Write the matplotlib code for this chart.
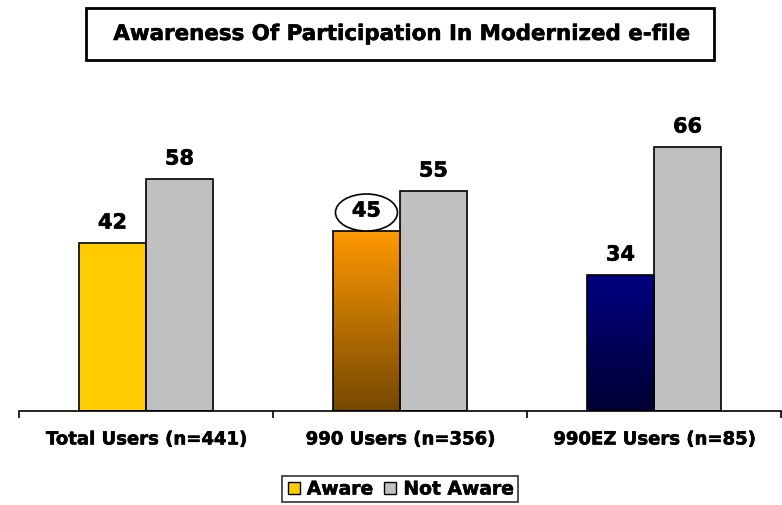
import matplotlib
matplotlib.use("Agg")
import matplotlib.pyplot as plt
import matplotlib.patheffects as pe
import numpy as np
from matplotlib.colors import LinearSegmentedColormap
from matplotlib.patches import Rectangle, Ellipse
from matplotlib.transforms import ScaledTranslation

CATEGORIES = ["Total Users (n=441)", "990 Users (n=356)", "990EZ Users (n=85)"]
AWARE = [42, 45, 34]
NOT_AWARE = [58, 55, 66]
SERIES = ["Aware", "Not Aware"]
TITLE = "Awareness Of Participation In Modernized e-file"
CIRCLED = 1  # index of the circled Aware value

plt.rcParams["font.family"] = "DejaVu Sans"
plt.rcParams["font.weight"] = "bold"
heavy = [pe.withStroke(linewidth=0.4, foreground="black")]

fig = plt.figure(figsize=(7.82, 5.05), dpi=100)
ax = fig.add_axes([19 / 782, 94 / 505, 762 / 782, 320 / 505])

x = np.arange(len(CATEGORIES))
w = 0.264
b1 = ax.bar(x - w / 2, AWARE, w, color="#FFCC00", edgecolor="black", lw=1.2, zorder=2)
b2 = ax.bar(x + w / 2, NOT_AWARE, w, color="#C0C0C0", edgecolor="black", lw=1.2, zorder=2)

# gradient fills for the 990 and 990EZ "Aware" bars
grads = {1: ("#FF9900", "#754800"), 2: ("#000080", "#000033")}
for i, (top, bot) in grads.items():
    bar = b1[i]
    cmap = LinearSegmentedColormap.from_list("g%d" % i, [bot, top])
    x0, h = bar.get_x(), bar.get_height()
    im = ax.imshow(np.linspace(0, 1, 256).reshape(-1, 1), cmap=cmap, origin="lower",
                   extent=[x0, x0 + bar.get_width(), 0, h], aspect="auto", zorder=2.5)
    im.set_clip_path(bar)
    bar.set_facecolor("none")
    bar.set_zorder(3)

for bars in (b1, b2):
    for j, bar in enumerate(bars):
        xc, yc = bar.get_x() + bar.get_width() / 2, bar.get_height()
        if bars is b1 and j == CIRCLED:
            tr = fig.dpi_scale_trans + ScaledTranslation(xc, yc, ax.transData)
            ax.add_patch(Ellipse((0, 0.185), 0.62, 0.37, transform=tr, fc="white",
                                 ec="black", lw=1.2, zorder=4))
        ax.annotate(f"{bar.get_height():.0f}", (xc, yc),
                    xytext=(0, 7.5), textcoords="offset points", ha="center", va="bottom",
                    fontsize=15, fontweight="bold", zorder=5, path_effects=heavy)

ax.set_xlim(-0.5, 2.5)
ax.set_ylim(0, 80)
ax.set_yticks([])
for s in ("left", "right", "top"):
    ax.spines[s].set_visible(False)
ax.spines["bottom"].set_linewidth(1.2)
ax.set_xticks(x)
ax.set_xticklabels(CATEGORIES, fontsize=13, fontweight="bold")
for t in ax.get_xticklabels():
    t.set_path_effects(heavy)
ax.tick_params(axis="x", which="major", length=0, pad=14)
ax.set_xticks([-0.5, 0.5, 1.5, 2.5], minor=True)
ax.tick_params(axis="x", which="minor", length=5, width=1.2, direction="out")

# title box
fig.patches.append(Rectangle((86 / 782, 1 - 60 / 505), 628 / 782, 52 / 505,
                             transform=fig.transFigure, fill=False, ec="black", lw=2))
fig.text(401 / 782, 1 - 34 / 505, TITLE, ha="center", va="center", fontsize=15.4,
         fontweight="bold", path_effects=heavy)

h1 = plt.Line2D([], [], marker="s", ls="none", mfc="#FFCC00", mec="black", ms=9)
h2 = plt.Line2D([], [], marker="s", ls="none", mfc="#C0C0C0", mec="black", ms=9)
leg = fig.legend([h1, h2], SERIES, loc="center", bbox_to_anchor=(400 / 782, 1 - 489 / 505),
                 ncol=2, frameon=True, fancybox=False, edgecolor="black", fontsize=13.5,
                 handlelength=0.8, handletextpad=0.3, columnspacing=0.5, borderpad=0.2,
                 borderaxespad=0)
leg.get_frame().set_linewidth(1.2)
for t in leg.get_texts():
    t.set_path_effects(heavy)

fig.savefig("out.png", dpi=100)
